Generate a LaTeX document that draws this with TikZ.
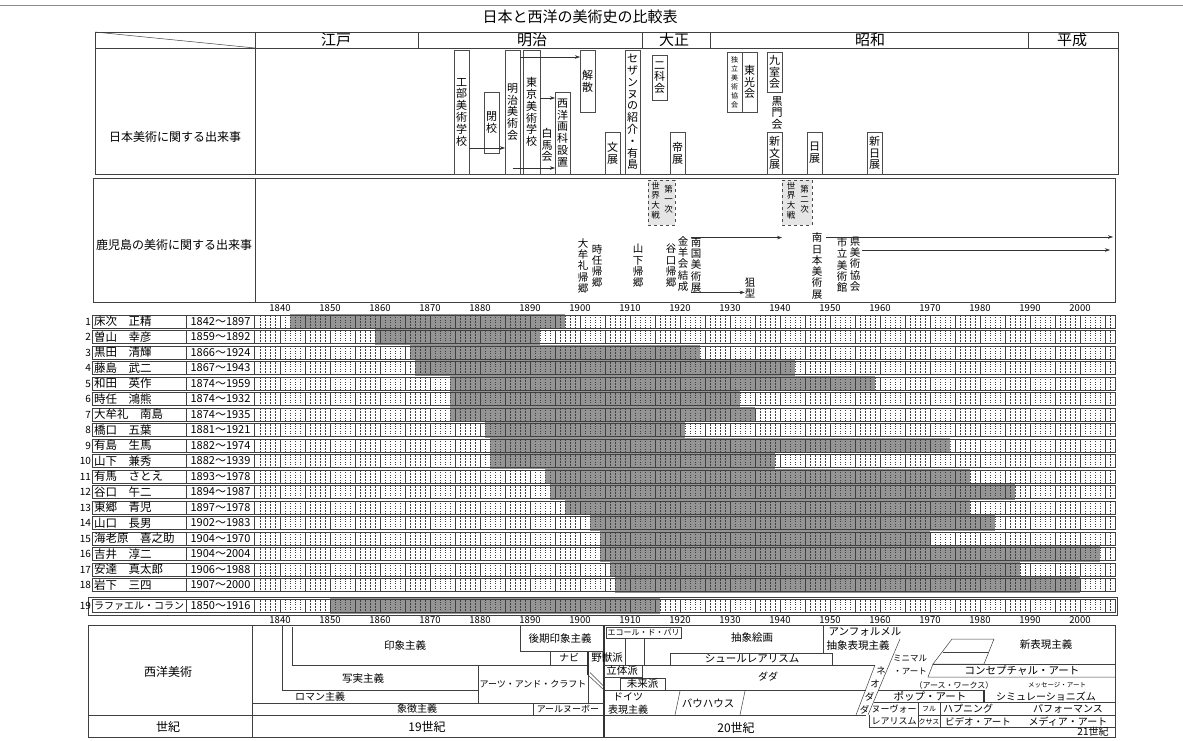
\documentclass[tikz,border=0pt]{standalone}
\usepackage{fontspec}
\setmainfont{Noto Sans CJK JP}
\usetikzlibrary{arrows.meta}
\newcommand\myfs[2]{\fontsize{#1}{#2}\selectfont}
\newcommand\artistrow[6]{%
  \fill[lifeband] ({280+5*(#5-1840)},#2-7.75) rectangle ({280+5*(#6-1840)},#2+7.75);
  \draw[gridA] \foreach \s in {1835,1845,...,1995}{\foreach \k in {1,2,3,4}{({280+5*(\s+\k-1840)},#2-6.5) -- ++(0,13)}} ({280+5*166},#2-6.5) -- ++(0,13);
  \draw[gridB] \foreach \s in {1840,1850,...,2000}{\foreach \k in {1,2,3,4}{({280+5*(\s+\k-1840)},#2-6.5) -- ++(0,13)}};
  \draw[gridS] \foreach \s in {1840,1845,...,2005}{({280+5*(\s-1840)},#2-6.5) -- ++(0,13)};
  \draw[rowbox] (92,#2-6.5) rectangle (1115,#2+6.5) (186,#2-6.5) -- ++(0,13) (254,#2-6.5) -- ++(0,13);
  \node[num] (n#1) at (91,#2) {#1};
  \node[nm] (a#1) at (94,#2) {#3};
  \node[yrs] (y#1) at (220.5,#2) {#4};
}
\begin{document}
\begin{tikzpicture}[x=1pt,y=-1pt,
  every node/.style={inner sep=0pt,outer sep=0pt},
  boxln/.style={draw=black!75,line width=0.6pt},
  ln/.style={draw=black!75,line width=0.5pt},
  era/.style={font=\myfs{15}{16}},
  evbox/.style={draw=black!70,line width=0.5pt,minimum width=15pt,align=center,font=\myfs{11}{11.8}},
  vt/.style={align=center,font=\myfs{10.5}{11.3}},
  arr/.style={draw=black!80,line width=0.5pt,-{Stealth[length=5pt,width=3.5pt]}},
  warbox/.style={draw=black!70,line width=0.5pt,dashed,fill=black!10,minimum height=45pt},
  wartxt/.style={align=center,font=\myfs{8.5}{9.8}},
  lifeband/.style={fill=black!42},
  gridS/.style={draw=black!75,line width=0.4pt},
  gridA/.style={draw=black!75,line width=0.4pt,dash pattern=on 2pt off 1pt},
  gridB/.style={draw=black!75,line width=0.4pt,dash pattern=on 0.8pt off 1.6pt},
  rowbox/.style={draw=black!75,line width=0.5pt},
  nm/.style={anchor=west,font=\myfs{11.5}{12}},
  yrs/.style={font=\myfs{11}{12}},
  num/.style={anchor=east,font=\myfs{10}{12}},
  tl/.style={font=\myfs{9.5}{10}},
  wl/.style={font=\myfs{10.5}{11}},
]
\useasboundingbox (0,0) rectangle (1183,740);
\fill[white] (0,0) rectangle (1183,740);
\draw[black!45,line width=0.5pt] (0,5) -- (1183,5);

% ---------- title and era header ----------
\node[font=\myfs{15}{16}] (title) at (580,17) {日本と西洋の美術史の比較表};
\draw[boxln] (95,32) rectangle (1118,48);
\draw[ln] (95,32) -- (255,48);
\foreach \xx in {255,418,642,710,1028} \draw[ln] (\xx,32) -- (\xx,48);
\node[era] (e1) at (336,40) {江戸};
\node[era] (e2) at (532,40) {明治};
\node[era] (e3) at (674,40) {大正};
\node[era] (e4) at (870,40) {昭和};
\node[era] (e5) at (1072,40) {平成};

% ---------- Japanese art events ----------
\draw[boxln] (95,48) rectangle (1118,174);
\draw[ln] (255,48) -- (255,174);
\node[font=\myfs{12}{13}] (lbl1) at (175,137) {日本美術に関する出来事};

\node[evbox,minimum height=124pt] (kobu) at (461.5,112) {工\\部\\美\\術\\学\\校};
\node[evbox,minimum height=61pt] (heikou) at (491.5,122.5) {閉\\校};
\node[evbox,minimum height=124pt] (meijibi) at (512.5,112) {明\\治\\美\\術\\会};
\node[evbox,minimum height=124pt,minimum width=17pt] (tokyobi) at (531.5,112) {東\\京\\美\\術\\学\\校};
\node[align=center,font=\myfs{11}{11.8}] (hakuba) at (547,145) {白\\馬\\会};
\node[evbox,minimum height=82pt] (seiyo) at (562.5,133) {西\\洋\\画\\科\\設\\置};
\node[evbox,minimum height=62pt] (kaisan) at (587.5,81) {解\\散};
\node[evbox,minimum height=42pt] (bunten) at (612.5,153) {文\\展};
\node[evbox,minimum height=124pt] (cezanne) at (632.5,112) {セ\\ザ\\ン\\ヌ\\の\\紹\\介\\・\\有\\島};
\node[evbox,minimum height=45pt] (nika) at (659.5,77.5) {二\\科\\会};
\node[evbox,minimum height=42pt] (teiten) at (677.5,153) {帝\\展};
\node[evbox,minimum height=60pt,font=\myfs{7}{9}] (dokuritsu) at (734.5,82) {独\\立\\美\\術\\協\\会};
\node[evbox,minimum height=60pt] (toko) at (749.5,82) {東\\光\\会};
\node[evbox,minimum height=40pt] (kyushitsu) at (774.5,72) {九\\室\\会};
\node[align=center,font=\myfs{11}{11.8}] (kokumon) at (777,113) {黒\\門\\会};
\node[evbox,minimum height=42pt] (shinbunten) at (774.5,153) {新\\文\\展};
\node[evbox,minimum height=42pt] (nitten) at (814.5,153) {日\\展};
\node[evbox,minimum height=42pt] (shinnitten) at (874.5,153) {新\\日\\展};

\coordinate (r1) at (0,148);
\coordinate (r2) at (0,57);
\coordinate (r3) at (0,98);
\coordinate (r4) at (0,168);
\draw[arr] (r1 -| kobu.east) -- (r1 -| meijibi.west);
\draw[arr] (r2 -| meijibi.east) -- (r2 -| kaisan.west);
\draw[arr] (r3 -| tokyobi.east) -- (r3 -| seiyo.west);
\draw[arr] (r4 -| meijibi.center) -- (r4 -| seiyo.west);

% ---------- Kagoshima events ----------
\draw[boxln] (93,178) rectangle (1115,302);
\draw[ln] (255,178) -- (255,302);
\node[font=\myfs{12}{13}] (lbl2) at (174,245) {鹿児島の美術に関する出来事};

\node[warbox,minimum width=27pt] (ww1) at (661.5,202.5) {};
\node[wartxt] (ww1a) at (668.5,199) {第\\一\\次};
\node[wartxt] (ww1b) at (655.5,200.5) {世\\界\\大\\戦};
\node[warbox,minimum width=30pt] (ww2) at (797,202.5) {};
\node[wartxt] (ww2a) at (804.5,199) {第\\二\\次};
\node[wartxt] (ww2b) at (791,200.5) {世\\界\\大\\戦};

\node[vt] (omure) at (583,266) {大\\牟\\礼\\帰\\郷};
\node[vt] (tokito) at (597,266) {時\\任\\帰\\郷};
\node[vt] (yamashita) at (638,266) {山\\下\\帰\\郷};
\node[vt] (taniguchi) at (671,266) {谷\\口\\帰\\郷};
\node[vt] (kinyo) at (683,264) {金\\羊\\会\\結\\成};
\node[vt] (nangoku) at (696,265) {南\\国\\美\\術\\展};
\node[vt] (sogata) at (750,288) {狙\\型};
\node[vt] (minami) at (817,266) {南\\日\\本\\美\\術\\展};
\node[vt] (shiritsu) at (842,265) {市\\立\\美\\術\\館};
\node[vt] (kenbi) at (855,264) {県\\美\\術\\協\\会};

\draw[arr] (nangoku.north west) -- (nangoku.north west -| ww2.south west);
\draw[arr] (nangoku.south west) -- (nangoku.south west -| sogata.west);
\coordinate (k3s) at (826,237);
\coordinate (k3e) at (1113,237);
\coordinate (k4s) at (862,250);
\coordinate (k4e) at (1110,250);
\draw[arr] (k3s) -- (k3e);
\draw[arr] (k4s) -- (k4e);

% ---------- timeline labels ----------
\foreach \yr in {1840,1850,...,2000} {
  \node[tl] (ta\yr) at ({280+5*(\yr-1840)},308) {\yr};
  \node[tl] (tb\yr) at ({280+5*(\yr-1840)},620.5) {\yr};
}

% ---------- artists ----------
\artistrow{1}{321.5}{床次　正精}{1842～1897}{1842}{1897}
\artistrow{2}{337}{曽山　幸彦}{1859～1892}{1859}{1892}
\artistrow{3}{352.5}{黒田　清輝}{1866～1924}{1866}{1924}
\artistrow{4}{368}{藤島　武二}{1867～1943}{1867}{1943}
\artistrow{5}{383.5}{和田　英作}{1874～1959}{1874}{1959}
\artistrow{6}{399}{時任　鴻熊}{1874～1932}{1874}{1932}
\artistrow{7}{414.5}{大牟礼　南島}{1874～1935}{1874}{1935}
\artistrow{8}{430}{橋口　五葉}{1881～1921}{1881}{1921}
\artistrow{9}{445.5}{有島　生馬}{1882～1974}{1882}{1974}
\artistrow{10}{461}{山下　兼秀}{1882～1939}{1882}{1939}
\artistrow{11}{476.5}{有馬　さとえ}{1893～1978}{1893}{1978}
\artistrow{12}{492}{谷口　午二}{1894～1987}{1894}{1987}
\artistrow{13}{507.5}{東郷　青児}{1897～1978}{1897}{1978}
\artistrow{14}{523}{山口　長男}{1902～1983}{1902}{1983}
\artistrow{15}{538.5}{海老原　喜之助}{1904～1970}{1904}{1970}
\artistrow{16}{554}{吉井　淳二}{1904～2004}{1904}{2004}
\artistrow{17}{569.5}{安達　真太郎}{1906～1988}{1906}{1988}
\artistrow{18}{585}{岩下　三四}{1907～2000}{1907}{2000}
\draw[rowbox] (88,597) rectangle (1117,615);
\artistrow{19}{606}{\myfs{10}{11}ラファエル・コラン}{1850～1916}{1850}{1916}

% ---------- Western art ----------
\draw[boxln] (88,625) rectangle (1115,737);
\draw[ln] (252,625) -- (252,737);
\draw[ln] (88,715) -- (866,715);
\draw[draw=black!80,line width=1.3pt] (604,625) -- (604,737);
\draw[ln] (282,625) -- (282,690) -- (478,690);
\draw[ln] (292,627) -- (292,665) -- (588,665);
\draw[ln] (252,703) -- (604,703);
\draw[ln] (533,703) -- (533,715);
\draw[ln] (478,665) -- (478,703);
\draw[ln] (588,651) -- (588,703);
\draw[draw=black!80,line width=1.2pt] (588,651) -- (588,675);
\draw[ln] (520,625) -- (520,651) -- (604,651);
\draw[ln] (550,651) -- (550,665);
\draw[ln] (588,675) -- (604,690);
\draw[ln] (590,672.5) -- (604,686.5);
\draw[ln] (606,627) rectangle (681,638);
\draw[ln] (625,638) -- (625,665);
\draw[ln] (644,638) -- (644,665);
\draw[ln] (604,665) -- (875,665);
\draw[ln] (642,665) -- (642,677) -- (604,677);
\draw[ln] (620,678) rectangle (665,690);
\draw[ln] (670,653) rectangle (832,665);
\draw[ln] (823,625) -- (823,653);
\draw[ln] (604,690) -- (866,690);
\draw[ln] (680,691) -- (675,715);
\draw[ln] (745,691) -- (740,715);
\draw[ln] (875,665) -- (856,715);
\draw[ln] (900,639) -- (868,715);
\draw[ln] (952,639) -- (994,639) -- (984,664) -- (933,664) -- cycle;
\draw[ln] (943,652) -- (989,652);
\draw[ln] (933,664) -- (1115,664);
\draw[ln] (933,664) -- (928,677) -- (1115,677);
\draw[ln] (878,690) -- (984,690) -- (984,702);
\draw[draw=black!80,line width=1.1pt] (984,690) -- (984,702);
\draw[ln] (873.5,702) -- (1115,702);
\draw[ln] (918,715) -- (1115,715);
\draw[ln] (869,727) -- (1115,727);
\draw[ln] (869,715) -- (869,727);
\draw[ln] (918,702) -- (918,727);
\draw[ln] (940,702) -- (940,727);

\node[font=\myfs{12}{13}] (w0) at (168,672) {西洋美術};
\node[font=\myfs{12}{13}] (c0) at (168,727) {世紀};
\node[font=\myfs{12}{13}] (c19) at (427,727) {19世紀};
\node[font=\myfs{12}{13}] (c20) at (736,728) {20世紀};
\node[font=\myfs{10}{11}] (c21) at (1093,732) {21世紀};
\node[wl] (w1) at (405,645) {印象主義};
\node[wl] (w2) at (560,638) {後期印象主義};
\node[font=\myfs{10}{11}] (w3) at (569,658) {ナビ};
\node[wl] (w4) at (607,658) {野獣派};
\node[wl] (w5) at (363,678) {写実主義};
\node[font=\myfs{10}{11}] (w6) at (320,697) {ロマン主義};
\node[font=\myfs{10}{11}] (w7) at (417,709) {象徴主義};
\node[font=\myfs{9}{10}] (w8) at (533,684) {アーツ・アンド・クラフト};
\node[font=\myfs{9}{10}] (w9) at (568,709) {アールヌーボー};
\node[font=\myfs{8}{9}] (w10) at (643.5,632.5) {エコール・ド・パリ};
\node[wl] (w11) at (752,638) {抽象絵画};
\node[wl] (w12) at (752,659) {シュールレアリスム};
\node[wl] (w13) at (622,671) {立体派};
\node[wl] (w14) at (642.5,684) {未来派};
\node[font=\myfs{10}{11}] (w15) at (768,677) {ダダ};
\node[font=\myfs{10}{11}] (w16) at (628,697) {ドイツ};
\node[font=\myfs{10}{11}] (w17) at (628,709.5) {表現主義};
\node[wl] (w18) at (708,703) {バウハウス};
\node[wl] (w19) at (865,632) {アンフォルメル};
\node[wl] (w20) at (858,645.5) {抽象表現主義};
\node[wl] (w21) at (1046,645) {新表現主義};
\node[font=\myfs{8.5}{9}] (w22) at (910,658) {ミニマル};
\node[font=\myfs{8.5}{9}] (w23) at (910,671) {・アート};
\node[font=\myfs{9.5}{10}] (nd1) at (881,671) {ネ};
\node[font=\myfs{9.5}{10}] (nd2) at (875,684) {オ};
\node[font=\myfs{9.5}{10}] (nd3) at (869.5,697) {ダ};
\node[font=\myfs{9.5}{10}] (nd4) at (864.5,709.5) {ダ};
\node[wl] (w24) at (1022,670.5) {コンセプチャル・アート};
\node[font=\myfs{8}{9}] (w25) at (954,685) {（アース・ワークス）};
\node[font=\myfs{6.5}{7}] (w26) at (1057,685) {メッセージ・アート};
\node[wl] (w27) at (930,696) {ポップ・アート};
\node[font=\myfs{10}{11}] (w28) at (1046,697) {シミュレーショニズム};
\node[font=\myfs{9}{10}] (w29) at (894,709) {ヌーヴォー};
\node[font=\myfs{9}{10}] (w30) at (894,721.5) {レアリスム};
\node[font=\myfs{7}{8}] (w31) at (929,709) {フル};
\node[font=\myfs{7}{8}] (w32) at (929,721.5) {クサス};
\node[font=\myfs{10}{11}] (w33) at (968,709) {ハプニング};
\node[font=\myfs{10}{11}] (w34) at (1068,709) {パフォーマンス};
\node[font=\myfs{9.5}{10}] (w35) at (978,721.5) {ビデオ・アート};
\node[font=\myfs{10}{11}] (w36) at (1068,721.5) {メディア・アート};
\end{tikzpicture}
\end{document}
